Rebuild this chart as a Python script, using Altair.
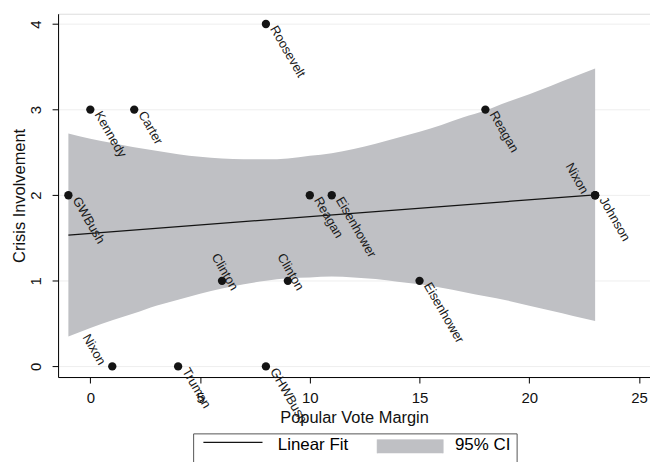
import altair as alt
import pandas as pd

# ---- data ----
names = ["Roosevelt", "Kennedy", "Carter", "Reagan", "GWBush", "Reagan",
         "Eisenhower", "Nixon", "Johnson", "Clinton", "Clinton", "Eisenhower",
         "Nixon", "Truman", "GHWBush"]
vote_margin = [8, 0, 2, 18, -1, 10, 11, 23, 23, 6, 9, 15, 1, 4, 8]
crisis = [4, 3, 3, 3, 2, 2, 2, 2, 2, 1, 1, 1, 0, 0, 0]
label_side = ["right", "right", "right", "right", "right", "right", "right",
              "left", "right", "above", "above", "right", "left", "right", "right"]

# 95% CI band
ci_x = list(range(-1, 24))
ci_lo = [0.35, 0.45, 0.54, 0.62, 0.71, 0.78, 0.85, 0.91, 0.96, 1.00, 1.03, 1.04,
         1.05, 1.04, 1.02, 0.99, 0.96, 0.92, 0.87, 0.82, 0.77, 0.71, 0.65, 0.59, 0.53]
ci_hi = [2.72, 2.66, 2.61, 2.56, 2.52, 2.48, 2.45, 2.43, 2.42, 2.42, 2.43, 2.46,
         2.49, 2.54, 2.60, 2.67, 2.74, 2.82, 2.91, 2.99, 3.09, 3.18, 3.28, 3.38, 3.48]

x_ticks = [0, 5, 10, 15, 20, 25]
y_ticks = [0, 1, 2, 3, 4]
series_names = ["Linear Fit", "95% CI"]

pts = pd.DataFrame({"name": names, "margin": vote_margin, "crisis": crisis, "side": label_side})
ci = pd.DataFrame({"margin": ci_x, "lo": ci_lo, "hi": ci_hi})
key = pd.DataFrame({"series": series_names})

FONT = "Liberation Sans"
GREY = "#bfc0c4"
INK = "#141414"

xscale = alt.Scale(domain=[-1.47, 25.5], nice=False, zero=False)
yscale = alt.Scale(domain=[-0.124, 4.12], nice=False, zero=False)

xaxis = alt.Axis(values=x_ticks, format="d", title="Popular Vote Margin", grid=False,
                 domainColor="#000", tickColor="#000", tickSize=6,
                 labelFont=FONT, labelFontSize=15, labelColor="#111", labelPadding=8,
                 labelFlush=False, titleFont=FONT, titleFontSize=16.5,
                 titleFontWeight="normal", titleColor="#111", titlePadding=4)
yaxis = alt.Axis(values=y_ticks, format="d", title="Crisis Involvement", grid=True,
                 gridColor="#eeeeee", domainColor="#000", tickColor="#000", tickSize=6,
                 labelFont=FONT, labelFontSize=15, labelColor="#111", labelAngle=-90,
                 labelAlign="center", labelBaseline="bottom", labelPadding=9,
                 labelFlush=False, titleFont=FONT, titleFontSize=16.5,
                 titleFontWeight="normal", titleColor="#111", titlePadding=1)

legend = alt.Legend(
    title=" ", titleOrient="bottom", titleFontSize=10, titlePadding=2,
    orient="none", legendX=135.7, legendY=421.6,
    direction="horizontal", columns=2, symbolSize=4356, clipHeight=12,
    labelFont=FONT, labelFontSize=17, labelColor="#000", labelOffset=11,
    columnPadding=28, padding=6, strokeColor="#555",
    symbolStrokeWidth=1.2, symbolOpacity=1,
)
paint = alt.Scale(domain=series_names, range=[INK, GREY])
shapes = alt.Scale(domain=series_names,
                   range=["M-0.9,-0.09H0.9", "M-1,-0.17H1V0.33H-1Z"])

band = alt.Chart(ci).mark_area(interpolate="monotone", opacity=1, color=GREY).encode(
    x=alt.X("margin:Q", scale=xscale, axis=xaxis),
    y=alt.Y("lo:Q", scale=yscale, axis=yaxis),
    y2="hi:Q",
)

fit = alt.Chart(pts).transform_regression("margin", "crisis").mark_line(
    strokeWidth=1.2, color=INK).encode(x="margin:Q", y="crisis:Q")

dots = alt.Chart(pts).mark_circle(size=70, color=INK, opacity=1).encode(
    x="margin:Q", y="crisis:Q")

# invisible layer that only feeds the legend (fit line + CI swatch)
key_layer = alt.Chart(key).transform_filter("false").mark_point(
    filled=True, opacity=1).encode(
    x=alt.value(0), y=alt.value(0),
    fill=alt.Fill("series:N", scale=paint, legend=legend),
    stroke=alt.Stroke("series:N", scale=paint, legend=legend),
    shape=alt.Shape("series:N", scale=shapes, legend=legend),
)

def labels(side, align, dx, dy):
    return alt.Chart(pts).transform_filter(alt.datum.side == side).mark_text(
        angle=60, align=align, baseline="middle", dx=dx, dy=dy,
        font=FONT, fontSize=13, color="#1a1a1a").encode(
        x="margin:Q", y="crisis:Q", text="name:N")

chart = alt.layer(
    band, fit, dots, key_layer,
    labels("right", "left", 6, -5),
    labels("left", "right", -7.2, 7.4),
    labels("above", "center", -6.3, -6.8),
).properties(
    width=594.7, height=365,
    autosize=alt.AutoSizeParams(type="none"),
    padding={"left": 50.3, "top": 4.7, "right": 0, "bottom": 90},
).configure_view(stroke=None).configure(background="white")

chart.save("out.html", embed_options={"renderer": "svg", "actions": False})
